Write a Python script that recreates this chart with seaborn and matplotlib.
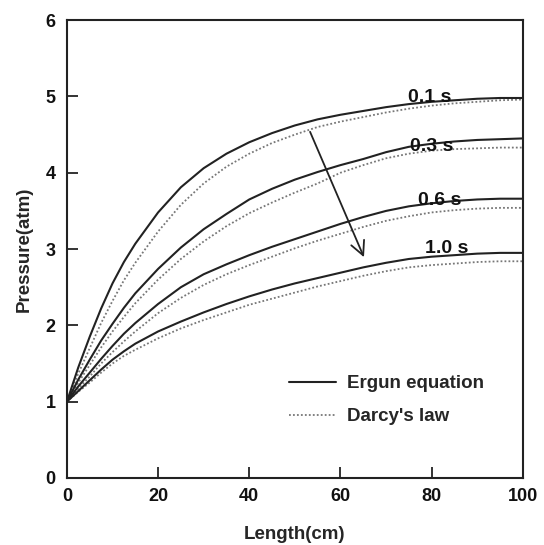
import numpy as np
import pandas as pd
import seaborn as sns
import matplotlib.pyplot as plt
from matplotlib.lines import Line2D

# Valores: pressao (atm) ao longo do comprimento (cm)
length_cm = [0, 2.5, 5, 7.5, 10, 12.5, 15, 20, 25, 30, 35, 40, 45, 50, 55, 60, 65, 70, 75, 80, 85, 90, 95, 100]

ergun_01 = [1.00, 1.45, 1.85, 2.22, 2.55, 2.83, 3.07, 3.48, 3.81, 4.06, 4.25, 4.40, 4.52, 4.62, 4.70, 4.76, 4.81, 4.86, 4.90, 4.93, 4.95, 4.97, 4.98, 4.98]
darcy_01 = [1.00, 1.37, 1.70, 2.03, 2.32, 2.59, 2.82, 3.23, 3.58, 3.86, 4.08, 4.25, 4.39, 4.50, 4.60, 4.67, 4.73, 4.79, 4.84, 4.88, 4.91, 4.93, 4.95, 4.96]
ergun_03 = [1.00, 1.29, 1.55, 1.80, 2.02, 2.23, 2.42, 2.74, 3.02, 3.26, 3.46, 3.65, 3.79, 3.91, 4.01, 4.10, 4.18, 4.27, 4.34, 4.38, 4.41, 4.43, 4.44, 4.45]
darcy_03 = [1.00, 1.25, 1.48, 1.71, 1.92, 2.11, 2.29, 2.60, 2.87, 3.10, 3.30, 3.47, 3.61, 3.74, 3.86, 4.00, 4.10, 4.19, 4.25, 4.29, 4.31, 4.32, 4.33, 4.33]
ergun_06 = [1.00, 1.20, 1.38, 1.56, 1.73, 1.89, 2.03, 2.28, 2.50, 2.67, 2.80, 2.92, 3.03, 3.13, 3.23, 3.33, 3.42, 3.50, 3.56, 3.60, 3.63, 3.65, 3.66, 3.66]
darcy_06 = [1.00, 1.17, 1.33, 1.50, 1.65, 1.79, 1.92, 2.16, 2.36, 2.53, 2.67, 2.79, 2.90, 3.01, 3.11, 3.20, 3.29, 3.37, 3.43, 3.48, 3.51, 3.53, 3.54, 3.54]
ergun_10 = [1.00, 1.14, 1.28, 1.42, 1.55, 1.66, 1.76, 1.92, 2.05, 2.17, 2.28, 2.38, 2.47, 2.55, 2.62, 2.69, 2.76, 2.82, 2.87, 2.90, 2.92, 2.94, 2.95, 2.95]
darcy_10 = [1.00, 1.13, 1.25, 1.38, 1.50, 1.60, 1.68, 1.83, 1.96, 2.07, 2.17, 2.27, 2.35, 2.43, 2.51, 2.58, 2.65, 2.71, 2.76, 2.79, 2.81, 2.83, 2.84, 2.84]

times = ['0.1 s', '0.3 s', '0.6 s', '1.0 s']
label_x = [79.6, 80.0, 81.8, 83.3]
label_y = [4.98, 4.34, 3.64, 3.01]

# Montar tabela longa para o seaborn
curves = {
    ('0.1 s', 'Ergun equation'): ergun_01, ('0.1 s', "Darcy's law"): darcy_01,
    ('0.3 s', 'Ergun equation'): ergun_03, ('0.3 s', "Darcy's law"): darcy_03,
    ('0.6 s', 'Ergun equation'): ergun_06, ('0.6 s', "Darcy's law"): darcy_06,
    ('1.0 s', 'Ergun equation'): ergun_10, ('1.0 s', "Darcy's law"): darcy_10,
}
rows = []
for (t, method), values in curves.items():
    for x, y in zip(length_cm, values):
        rows.append({'time': t, 'method': method, 'length': x, 'pressure': y})
df = pd.DataFrame(rows)

sns.set_style('ticks')
plt.rcParams['font.family'] = ['Liberation Sans', 'DejaVu Sans']
plt.rcParams['font.weight'] = 'bold'
plt.rcParams['axes.labelweight'] = 'bold'

fig = plt.figure(figsize=(5.44, 5.45), dpi=100)
ax = fig.add_axes([0.123, 0.123, 0.838, 0.840])

ergun = df[df['method'] == 'Ergun equation']
darcy = df[df['method'] == "Darcy's law"]
dot_style = (0, (1, 1.2))
sns.lineplot(data=darcy, x='length', y='pressure', units='time', estimator=None,
             color='#777777', lw=1.3, linestyle=dot_style, ax=ax, legend=False)
sns.lineplot(data=ergun, x='length', y='pressure', units='time', estimator=None,
             color='#222222', lw=1.5, ax=ax, legend=False)

for t, lx, ly in zip(times, label_x, label_y):
    ax.text(lx, ly, t, ha='center', va='center', fontsize=14, color='#111111')

# Seta indicando o aumento do tempo
ax.annotate('', xy=(65.4, 2.86), xytext=(53.1, 4.57),
            arrowprops=dict(arrowstyle='->', color='#222222', lw=1.3, mutation_scale=25))

handles = [Line2D([], [], color='#222222', lw=1.5),
           Line2D([], [], color='#777777', lw=1.3, linestyle=dot_style)]
ax.legend(handles, ['Ergun equation', "Darcy's law"], loc='center left',
          bbox_to_anchor=(0.45, 0.17), frameon=False, fontsize=13.5,
          handlelength=2.5, labelspacing=0.85, handletextpad=0.6)

ax.set_xlim(0, 100)
ax.set_ylim(0, 6)
ax.set_xticks([0, 20, 40, 60, 80, 100])
ax.set_yticks([0, 1, 2, 3, 4, 5, 6])
ax.tick_params(direction='in', length=8, width=1.2, labelsize=13, colors='#111111')
ax.tick_params(axis='x', pad=7)
ax.tick_params(axis='y', pad=8)
for s in ax.spines.values():
    s.set_linewidth(1.5)
    s.set_color('#222222')
ax.set_xlabel('Length(cm)', fontsize=13.5, labelpad=15)
ax.set_ylabel('Pressure(atm)', fontsize=13.5, labelpad=9)

fig.savefig('out.png', dpi=100)
